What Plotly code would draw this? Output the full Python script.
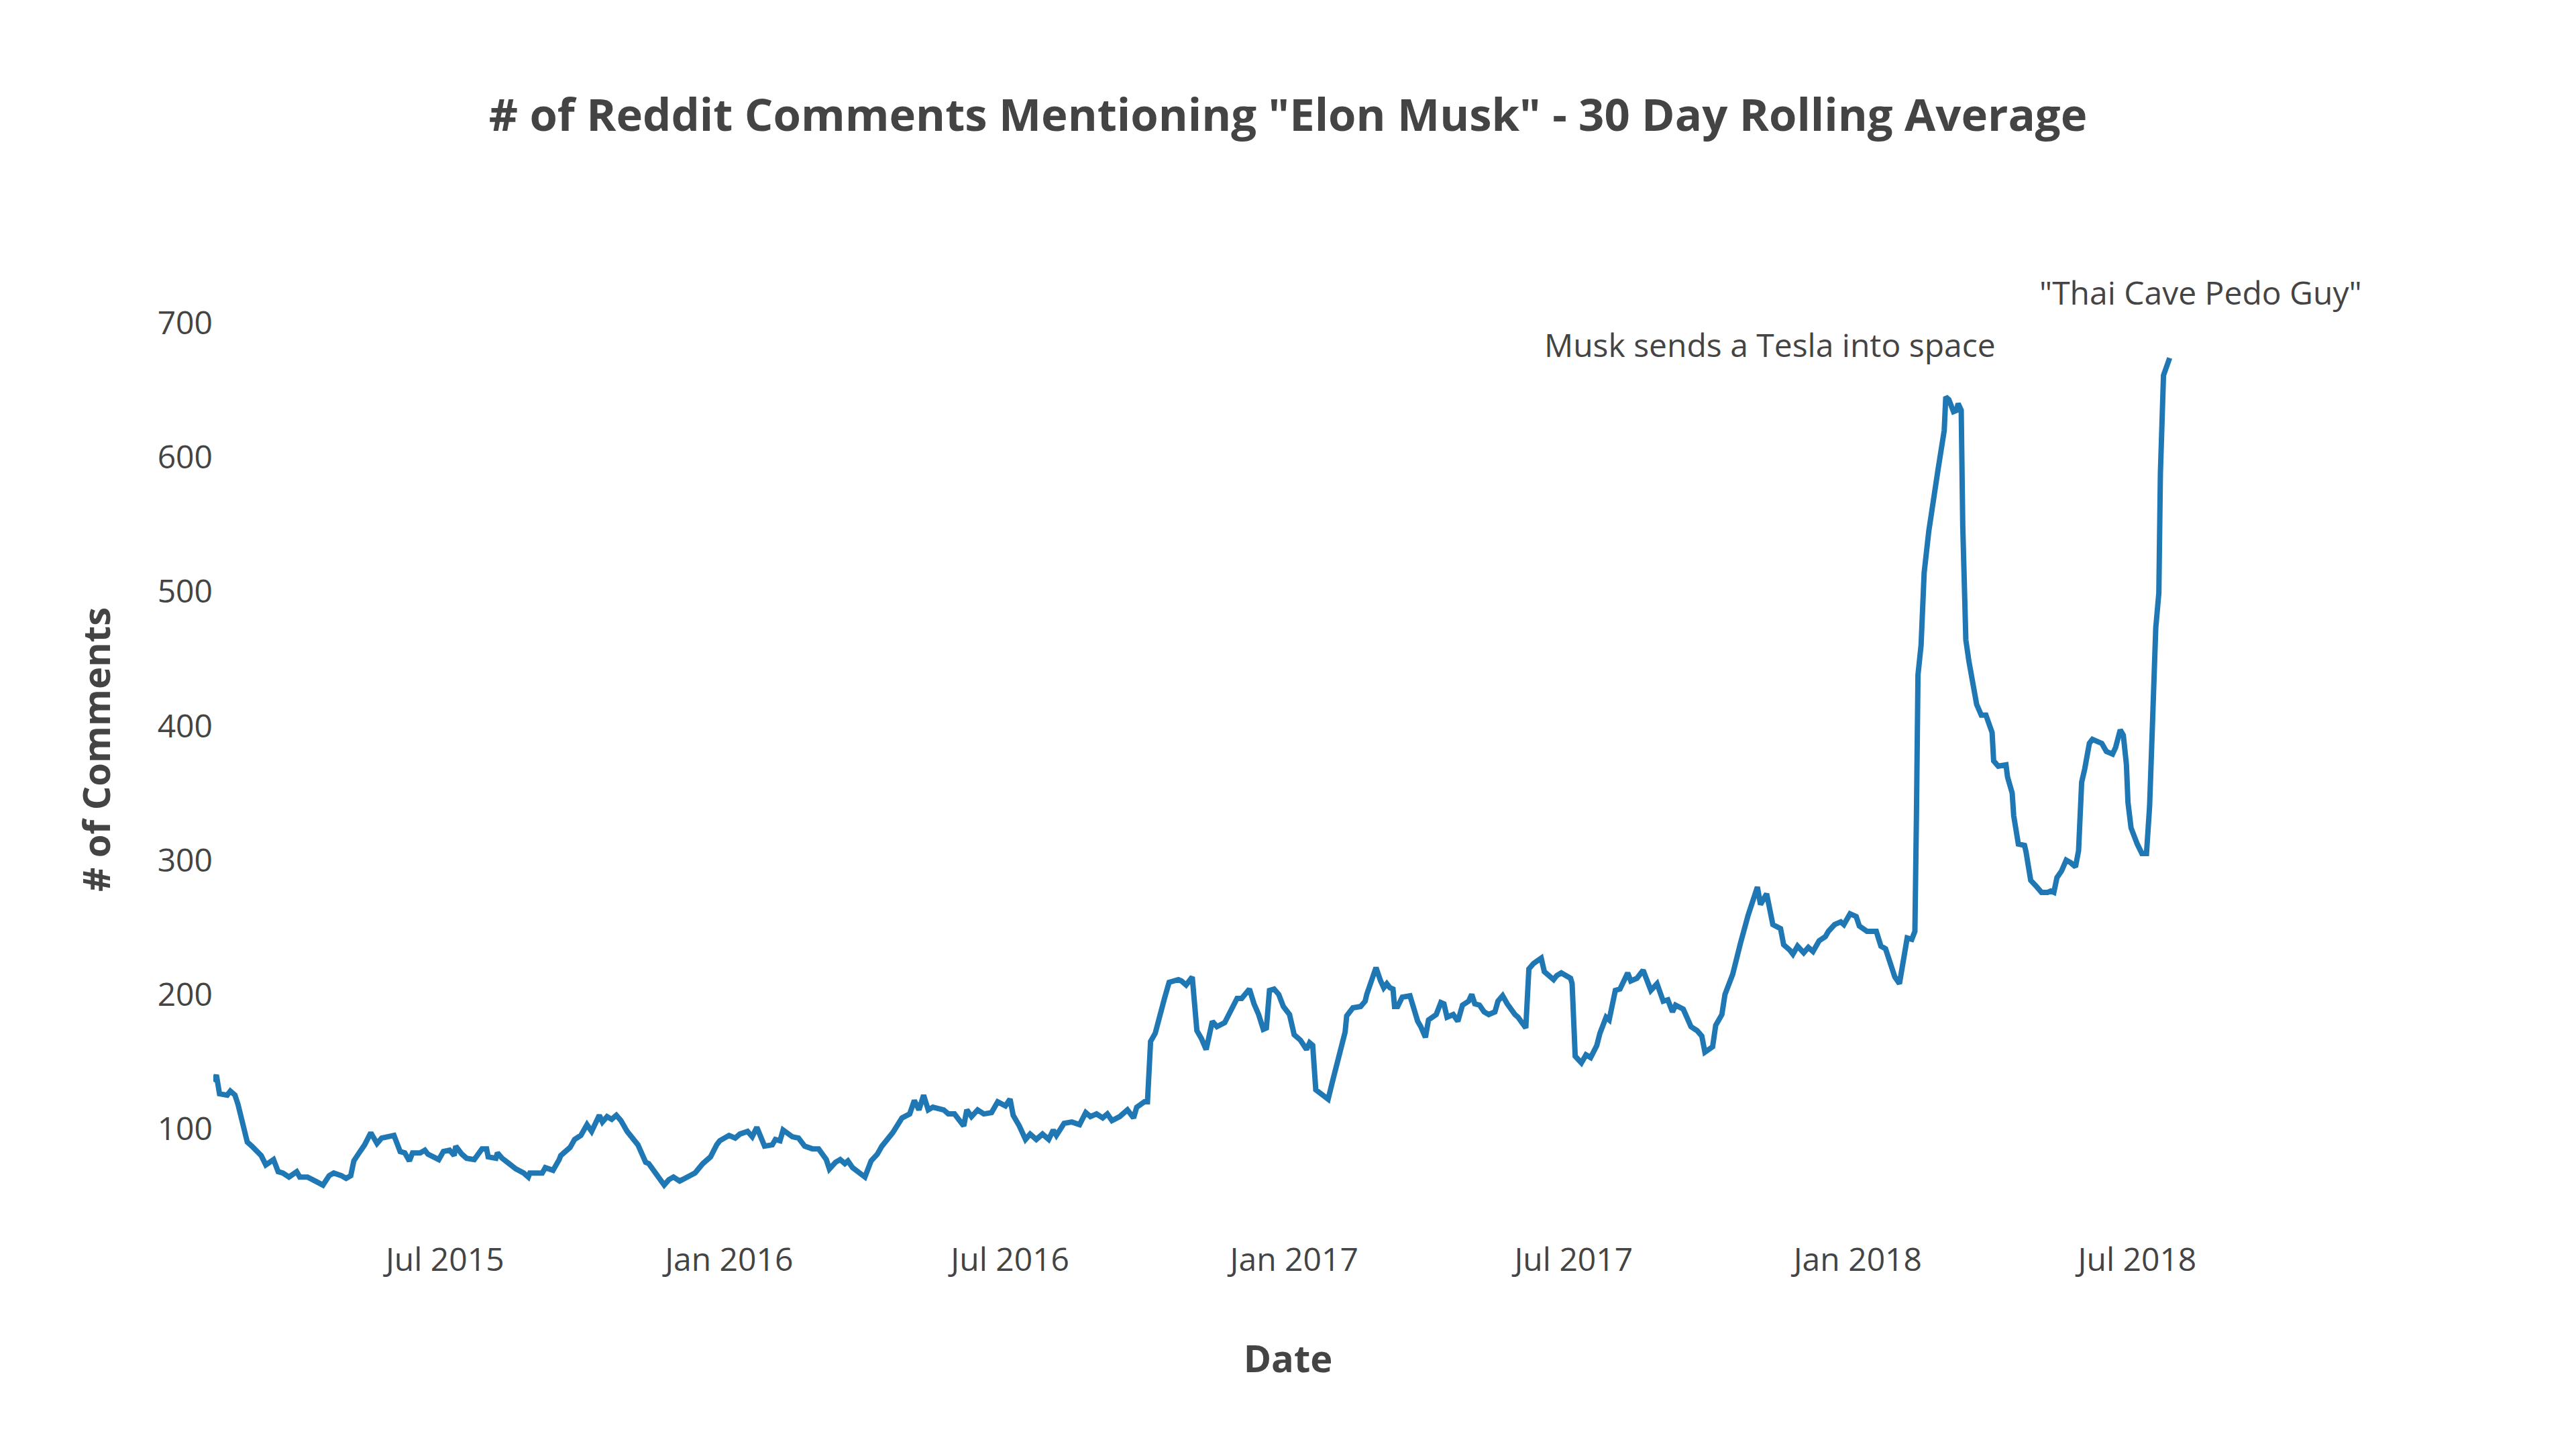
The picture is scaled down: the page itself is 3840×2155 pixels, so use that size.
import plotly.graph_objects as go

# 30-day rolling average of Reddit comments mentioning "Elon Musk"
dates = [
    "2015-02-01", "2015-02-03", "2015-02-05", "2015-02-10", "2015-02-12", "2015-02-15", "2015-02-17",
    "2015-02-20", "2015-02-23", "2015-02-26", "2015-03-04", "2015-03-07", "2015-03-12", "2015-03-15",
    "2015-03-18", "2015-03-22", "2015-03-27", "2015-03-29", "2015-04-03", "2015-04-08", "2015-04-13",
    "2015-04-17", "2015-04-20", "2015-04-25", "2015-04-28", "2015-05-01", "2015-05-03", "2015-05-07",
    "2015-05-10", "2015-05-14", "2015-05-18", "2015-05-21", "2015-05-29", "2015-06-02", "2015-06-05",
    "2015-06-08", "2015-06-10", "2015-06-15", "2015-06-18", "2015-06-20", "2015-06-27", "2015-06-30",
    "2015-07-04", "2015-07-07", "2015-07-08", "2015-07-12", "2015-07-15", "2015-07-20", "2015-07-25",
    "2015-07-28", "2015-07-29", "2015-08-03", "2015-08-04", "2015-08-07", "2015-08-16", "2015-08-21",
    "2015-08-24", "2015-08-25", "2015-09-02", "2015-09-04", "2015-09-07", "2015-09-09", "2015-09-13",
    "2015-09-14", "2015-09-16", "2015-09-20", "2015-09-23", "2015-09-27", "2015-10-01", "2015-10-04",
    "2015-10-09", "2015-10-11", "2015-10-14", "2015-10-17", "2015-10-20", "2015-10-23", "2015-10-27",
    "2015-11-03", "2015-11-08", "2015-11-10", "2015-11-15", "2015-11-20", "2015-11-23", "2015-11-26",
    "2015-11-30", "2015-12-05", "2015-12-10", "2015-12-15", "2015-12-20", "2015-12-24", "2015-12-26",
    "2016-01-01", "2016-01-05", "2016-01-08", "2016-01-13", "2016-01-16", "2016-01-19", "2016-01-24",
    "2016-01-29", "2016-01-31", "2016-02-03", "2016-02-05", "2016-02-11", "2016-02-15", "2016-02-19",
    "2016-02-24", "2016-02-28", "2016-03-04", "2016-03-06", "2016-03-10", "2016-03-13", "2016-03-16",
    "2016-03-18", "2016-03-21", "2016-03-29", "2016-04-02", "2016-04-06", "2016-04-09", "2016-04-16",
    "2016-04-22", "2016-04-27", "2016-04-30", "2016-05-03", "2016-05-06", "2016-05-09", "2016-05-12",
    "2016-05-19", "2016-05-22", "2016-05-26", "2016-06-01", "2016-06-03", "2016-06-06", "2016-06-10",
    "2016-06-14", "2016-06-19", "2016-06-23", "2016-06-28", "2016-07-01", "2016-07-03", "2016-07-07",
    "2016-07-11", "2016-07-14", "2016-07-18", "2016-07-22", "2016-07-26", "2016-07-29", "2016-07-31",
    "2016-08-05", "2016-08-10", "2016-08-15", "2016-08-19", "2016-08-22", "2016-08-26", "2016-08-30",
    "2016-09-02", "2016-09-05", "2016-09-10", "2016-09-15", "2016-09-19", "2016-09-21", "2016-09-26",
    "2016-09-28", "2016-09-30", "2016-10-03", "2016-10-07", "2016-10-09", "2016-10-12", "2016-10-18",
    "2016-10-20", "2016-10-23", "2016-10-27", "2016-10-30", "2016-11-02", "2016-11-05", "2016-11-09",
    "2016-11-12", "2016-11-17", "2016-11-21", "2016-11-25", "2016-11-28", "2016-11-30", "2016-12-03",
    "2016-12-06", "2016-12-09", "2016-12-12", "2016-12-14", "2016-12-16", "2016-12-19", "2016-12-22",
    "2016-12-25", "2016-12-29", "2017-01-01", "2017-01-05", "2017-01-09", "2017-01-11", "2017-01-13",
    "2017-01-15", "2017-01-19", "2017-01-23", "2017-01-26", "2017-01-29", "2017-02-01", "2017-02-03",
    "2017-02-04", "2017-02-08", "2017-02-13", "2017-02-16", "2017-02-17", "2017-02-20", "2017-02-23",
    "2017-02-26", "2017-02-28", "2017-03-02", "2017-03-04", "2017-03-06", "2017-03-07", "2017-03-09",
    "2017-03-12", "2017-03-17", "2017-03-20", "2017-03-22", "2017-03-24", "2017-03-27", "2017-03-29",
    "2017-04-01", "2017-04-03", "2017-04-06", "2017-04-08", "2017-04-10", "2017-04-14", "2017-04-17",
    "2017-04-20", "2017-04-24", "2017-04-26", "2017-04-28", "2017-05-01", "2017-05-04", "2017-05-07",
    "2017-05-11", "2017-05-13", "2017-05-16", "2017-05-19", "2017-05-24", "2017-05-26", "2017-05-31",
    "2017-06-02", "2017-06-05", "2017-06-10", "2017-06-12", "2017-06-15", "2017-06-18", "2017-06-20",
    "2017-06-23", "2017-06-29", "2017-06-30", "2017-07-02", "2017-07-06", "2017-07-09", "2017-07-12",
    "2017-07-16", "2017-07-18", "2017-07-22", "2017-07-24", "2017-07-28", "2017-07-31", "2017-08-05",
    "2017-08-07", "2017-08-11", "2017-08-15", "2017-08-20", "2017-08-24", "2017-08-28", "2017-08-31",
    "2017-09-03", "2017-09-05", "2017-09-10", "2017-09-15", "2017-09-19", "2017-09-22", "2017-09-24",
    "2017-09-29", "2017-10-01", "2017-10-05", "2017-10-07", "2017-10-12", "2017-10-17", "2017-10-22",
    "2017-10-28", "2017-10-30", "2017-11-03", "2017-11-07", "2017-11-12", "2017-11-14", "2017-11-18",
    "2017-11-20", "2017-11-23", "2017-11-27", "2017-11-30", "2017-12-03", "2017-12-07", "2017-12-11",
    "2017-12-13", "2017-12-17", "2017-12-21", "2017-12-23", "2017-12-27", "2017-12-31", "2018-01-02",
    "2018-01-07", "2018-01-13", "2018-01-16", "2018-01-19", "2018-01-25", "2018-01-28", "2018-01-30",
    "2018-02-02", "2018-02-05", "2018-02-07", "2018-02-08", "2018-02-09", "2018-02-11", "2018-02-13",
    "2018-02-16", "2018-02-18", "2018-02-22", "2018-02-26", "2018-02-27", "2018-03-01", "2018-03-04",
    "2018-03-06", "2018-03-07", "2018-03-09", "2018-03-10", "2018-03-12", "2018-03-14", "2018-03-19",
    "2018-03-22", "2018-03-25", "2018-03-29", "2018-03-30", "2018-04-02", "2018-04-07", "2018-04-08",
    "2018-04-11", "2018-04-12", "2018-04-15", "2018-04-19", "2018-04-20", "2018-04-23", "2018-04-27",
    "2018-04-30", "2018-05-04", "2018-05-06", "2018-05-08", "2018-05-10", "2018-05-13", "2018-05-16",
    "2018-05-19", "2018-05-22", "2018-05-24", "2018-05-26", "2018-05-28", "2018-05-31", "2018-06-02",
    "2018-06-05", "2018-06-08", "2018-06-11", "2018-06-15", "2018-06-17", "2018-06-20", "2018-06-22",
    "2018-06-24", "2018-06-25", "2018-06-27", "2018-07-01", "2018-07-04", "2018-07-07", "2018-07-09",
    "2018-07-11", "2018-07-13", "2018-07-15", "2018-07-16", "2018-07-18", "2018-07-20", "2018-07-22",
]

comments = [
    135, 140, 126, 125, 128, 125, 118,
    103, 90, 87, 80, 73, 77, 68,
    67, 64, 68, 64, 64, 61, 58,
    65, 67, 65, 63, 65, 76, 83,
    88, 97, 89, 93, 95, 83, 82,
    76, 82, 82, 84, 81, 77, 83,
    84, 80, 87, 81, 78, 77, 85,
    85, 79, 78, 82, 78, 70, 67,
    64, 67, 67, 71, 70, 69, 77,
    80, 82, 86, 92, 95, 103, 98,
    110, 105, 109, 107, 110, 106, 98,
    88, 75, 74, 66, 58, 62, 64,
    61, 64, 67, 74, 79, 88, 91,
    95, 93, 96, 98, 94, 101, 87,
    88, 92, 91, 99, 94, 93, 87,
    85, 85, 77, 70, 75, 77, 74,
    76, 71, 64, 76, 81, 87, 97,
    108, 111, 121, 114, 125, 114, 116,
    114, 111, 111, 102, 114, 109, 114,
    111, 112, 120, 117, 122, 110, 102,
    92, 96, 92, 96, 92, 99, 95,
    104, 105, 103, 112, 109, 111, 108,
    111, 106, 109, 114, 108, 116, 120,
    120, 165, 171, 191, 197, 209, 211,
    210, 207, 213, 173, 167, 159, 180,
    176, 179, 188, 197, 197, 200, 204,
    193, 185, 174, 175, 203, 204, 200,
    191, 185, 170, 166, 159, 164, 162,
    129, 126, 122, 136, 151, 163, 172,
    184, 190, 191, 195, 200, 210, 220,
    210, 205, 208, 205, 204, 191, 191,
    198, 199, 186, 180, 176, 168, 181,
    183, 185, 194, 193, 183, 185, 180,
    192, 195, 200, 193, 192, 187, 185,
    187, 195, 199, 193, 185, 183, 175,
    219, 223, 227, 217, 214, 211, 214,
    216, 212, 208, 154, 149, 155, 153,
    162, 171, 183, 181, 203, 204, 216,
    210, 212, 218, 203, 208, 195, 196,
    187, 192, 189, 176, 173, 169, 157,
    161, 177, 185, 200, 215, 238, 259,
    280, 267, 275, 252, 249, 237, 233,
    230, 236, 231, 235, 232, 240, 243,
    247, 252, 254, 252, 260, 258, 251,
    247, 247, 236, 234, 213, 208, 223,
    242, 241, 247, 333, 438, 460, 514,
    545, 562, 591, 620, 645, 643, 634,
    635, 640, 635, 549, 464, 448, 416,
    408, 408, 395, 374, 370, 371, 362,
    350, 333, 312, 311, 306, 285, 280,
    276, 276, 277, 276, 287, 292, 300,
    298, 295, 307, 358, 368, 387, 390,
    389, 387, 381, 379, 384, 397, 393,
    371, 343, 324, 312, 305, 305, 340,
    406, 473, 499, 588, 661, 669, 674,
]

x_range = ["2015-02-01", "2018-11-24"]
y_range = [22.6, 742.2]
tick_dates = ["2015-07-01", "2016-01-01", "2016-07-01", "2017-01-01", "2017-07-01", "2018-01-01", "2018-07-01"]
tick_text = ["Jul 2015", "Jan 2016", "Jul 2016", "Jan 2017", "Jul 2017", "Jan 2018", "Jul 2018"]
y_ticks = [100, 200, 300, 400, 500, 600, 700]

note_text = ["Musk sends a Tesla into space", "\"Thai Cave Pedo Guy\""]
note_x = ["2017-11-05", "2018-08-11"]
note_y = [684, 723]

FONT = "Open Sans, verdana, arial, sans-serif"
TXT = "#444444"

fig = go.Figure()
fig.add_trace(go.Scatter(
    x=dates, y=comments, mode="lines",
    line=dict(color="#1f77b4", width=8),
    showlegend=False,
))

for t, xx, yy in zip(note_text, note_x, note_y):
    fig.add_annotation(x=xx, y=yy, xref="x", yref="y", text=t, showarrow=False,
                       xanchor="center", yanchor="middle",
                       font=dict(family=FONT, size=48, color=TXT))

fig.update_layout(
    width=3840, height=2155,
    margin=dict(l=318, r=318, t=397, b=318, pad=0),
    paper_bgcolor="white", plot_bgcolor="white",
    font=dict(family=FONT, size=48, color=TXT),
    title=dict(text="<b># of Reddit Comments Mentioning \"Elon Musk\" - 30 Day Rolling Average</b>",
               x=0.5, xanchor="center", xref="paper", y=1 - 172 / 2155, yanchor="middle",
               font=dict(family=FONT, size=67, color=TXT)),
    showlegend=False,
)
fig.update_xaxes(
    range=x_range, tickmode="array", tickvals=tick_dates, ticktext=tick_text,
    showgrid=False, zeroline=False, showline=False, ticks="",
    ticklabelstandoff=8,
    tickfont=dict(family=FONT, size=48, color=TXT),
    title=dict(text="<b>Date</b>", standoff=98, font=dict(family=FONT, size=56, color=TXT)),
)
fig.update_yaxes(
    range=y_range, tickmode="array", tickvals=y_ticks,
    showgrid=False, zeroline=False, showline=False, ticks="",
    tickfont=dict(family=FONT, size=48, color=TXT),
    title=dict(text="<b># of Comments</b>", standoff=52, font=dict(family=FONT, size=56, color=TXT)),
)

fig.write_html("out.html")
